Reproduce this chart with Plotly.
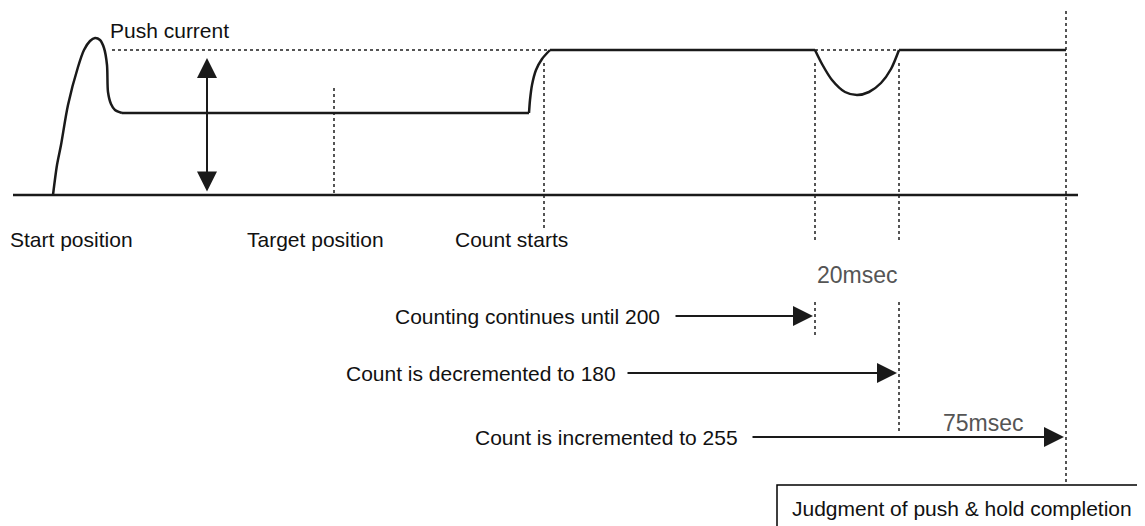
import plotly.graph_objects as go

# push current waveform (x = time axis, y = level, screen px)
rise_x = [53, 57, 61, 68, 78, 84, 90, 95, 100, 104, 107, 108, 111, 115, 122]
rise_y = [195, 165, 145, 105, 67, 50, 41, 38, 40, 48, 65, 92, 104, 110, 113]
step_x = [529, 530, 532, 536, 542, 550]
step_y = [113, 100, 85, 70, 59, 50]
dip_x = [815, 822, 832, 845, 857, 869, 881, 891, 899]
dip_y = [50, 64, 80, 92, 95, 92, 83, 69, 50]
flat_x = [(122, 529), (550, 815), (899, 1066)]
flat_y = [113, 50, 50]

base_level = 195
push_level = 50
base_x = [13, 1078]

# dotted guide lines: (x, y_top, y_bottom)
guide_v = [(334, 88, 195), (544, 63, 228), (815, 63, 240), (899, 63, 240),
           (1066, 5, 485), (815, 302, 337), (899, 302, 434)]
guide_h = [(112, 550), (815, 899)]

pos_labels = ["Start position", "Target position", "Count starts"]
pos_label_x = [8, 245, 453]

count_labels = ["Counting continues until 200", "Count is decremented to 180",
                "Count is incremented to 255"]
count_text_end = [662, 618, 740]
count_arrow = [(674, 813), (626, 897), (751, 1064)]
count_y = [316, 373, 437]

ink = "#1a1a1a"
dot = "#555555"
font = dict(family="Liberation Sans, Arial, sans-serif", size=21, color="#111111")

fig = go.Figure()

for x0, y0, y1 in guide_v:
    fig.add_trace(go.Scatter(x=[x0, x0], y=[y0, y1], mode="lines",
                             line=dict(color=dot, width=2, dash="dot"),
                             hoverinfo="skip"))
for x0, x1 in guide_h:
    fig.add_trace(go.Scatter(x=[x0, x1], y=[push_level, push_level], mode="lines",
                             line=dict(color=dot, width=2, dash="dot"),
                             hoverinfo="skip"))

# baseline
fig.add_trace(go.Scatter(x=base_x, y=[base_level, base_level], mode="lines",
                         line=dict(color=ink, width=2.5), hoverinfo="skip"))

# waveform: curved parts smoothed, flat parts straight
for cx, cy in [(rise_x, rise_y), (step_x, step_y), (dip_x, dip_y)]:
    fig.add_trace(go.Scatter(x=cx, y=cy, mode="lines",
                             line=dict(color=ink, width=2.5, shape="spline", smoothing=0.8),
                             hoverinfo="skip"))
for (x0, x1), lv in zip(flat_x, flat_y):
    fig.add_trace(go.Scatter(x=[x0, x1], y=[lv, lv], mode="lines",
                             line=dict(color=ink, width=2.5), hoverinfo="skip"))

ann = []
# double arrow showing push current
ann.append(dict(x=207, y=58, ax=207, ay=193, xref="x", yref="y", axref="x", ayref="y",
                showarrow=True, arrowhead=2, startarrowhead=2, arrowside="end+start",
                arrowsize=2, startarrowsize=2, arrowwidth=2, arrowcolor=ink, text=""))
ann.append(dict(x=108, y=30, text="Push current", showarrow=False,
                xanchor="left", yanchor="middle", font=font))

for lab, lx in zip(pos_labels, pos_label_x):
    ann.append(dict(x=lx, y=239, text=lab, showarrow=False,
                    xanchor="left", yanchor="middle", font=font))

for lab, tx, (a0, a1), cy in zip(count_labels, count_text_end, count_arrow, count_y):
    ann.append(dict(x=tx, y=cy, text=lab, showarrow=False,
                    xanchor="right", yanchor="middle", font=font))
    ann.append(dict(x=a1, y=cy, ax=a0, ay=cy, xref="x", yref="y", axref="x", ayref="y",
                    showarrow=True, arrowhead=2, arrowsize=2, arrowwidth=2,
                    arrowcolor=ink, text=""))

msec_font = dict(family="Liberation Sans, Arial, sans-serif", size=23, color="#555555")
ann.append(dict(x=857, y=275, text="20msec", showarrow=False,
                xanchor="center", yanchor="middle", font=msec_font))
ann.append(dict(x=983, y=423, text="75msec", showarrow=False,
                xanchor="center", yanchor="middle", font=msec_font))

ann.append(dict(x=790, y=508, text="Judgment of push & hold completion", showarrow=False,
                xanchor="left", yanchor="middle", font=font))

shapes = [dict(type="rect", x0=777, y0=485, x1=1160, y1=540, xref="x", yref="y",
               line=dict(color="#000000", width=1.5), fillcolor="rgba(0,0,0,0)")]

# the page body has an 8px margin, so the plot div starts at (8, 8)
fig.update_layout(
    width=1137, height=518,
    margin=dict(l=0, r=0, t=0, b=0),
    paper_bgcolor="white", plot_bgcolor="white",
    showlegend=False,
    annotations=ann, shapes=shapes,
    xaxis=dict(range=[8, 1145], visible=False, fixedrange=True),
    yaxis=dict(range=[526, 8], visible=False, fixedrange=True),
)

fig.write_html("out.html")
